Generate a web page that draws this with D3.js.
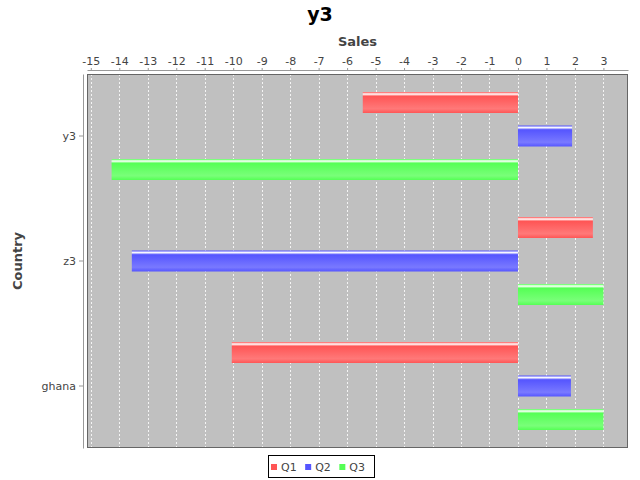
<!DOCTYPE html>
<html><head><meta charset="utf-8">
<script src="https://cdn.jsdelivr.net/npm/d3@7/dist/d3.min.js"></script>
<style>
body{margin:0;background:#fff;}
svg{display:block;font-family:"DejaVu Sans",sans-serif;}
</style></head>
<body>
<svg id="chart" width="640" height="480"></svg>
<script>
const categories = ["y3", "z3", "ghana"];
const seriesNames = ["Q1", "Q2", "Q3"];
const q1 = [-5.45, 2.63, -10.05];
const q2 = [1.9, -13.56, 1.86];
const q3 = [-14.27, 3.0, 3.0];
const xTicks = d3.range(-15, 4, 1);
const seriesColors = ["#FF5555", "#5555FF", "#55FF55"];
const seriesBright = ["#FF7979", "#7979FF", "#79FF79"];

const seriesValues = [q1, q2, q3];
const data = [];
categories.forEach((c, i) => seriesNames.forEach((s, j) => data.push({cat: c, ser: s, si: j, v: seriesValues[j][i]})));

const W = 640, H = 480;
const plot = {l: 87, r: 628, t: 74, b: 448};
const svg = d3.select("#chart");
svg.append("rect").attr("width", W).attr("height", H).attr("fill", "#fff");

const allV = seriesValues.flat();
const mn = d3.min(allV), mx = d3.max(allV), rng = mx - mn;
const x = d3.scaleLinear().domain([mn - 0.05 * rng, mx + 0.05 * rng]).range([plot.l, plot.r]);
const y = d3.scaleBand().domain(categories).range([plot.t, plot.b]).paddingInner(0.296).paddingOuter(0.144);
const yi = d3.scaleBand().domain(seriesNames).range([0, y.bandwidth()]).paddingInner(0.373).paddingOuter(0);

// gradients
const defs = svg.append("defs");
seriesNames.forEach((s, j) => {
  const g = defs.append("linearGradient").attr("id", "g" + j).attr("x1", 0).attr("y1", 0).attr("x2", 0).attr("y2", 1);
  const c0 = seriesColors[j], c1 = seriesBright[j];
  [[0, c0], [0.1, "#fff"], [0.2, c0], [0.8, c1], [1, c0]].forEach(([o, c]) => g.append("stop").attr("offset", o).attr("stop-color", c));
});

// plot background
svg.append("rect").attr("x", plot.l).attr("y", plot.t).attr("width", plot.r - plot.l).attr("height", plot.b - plot.t).attr("fill", "#C0C0C0");

// gridlines
svg.append("g").selectAll("line").data(xTicks).join("line")
  .attr("x1", d => Math.round(x(d)) + 0.5).attr("x2", d => Math.round(x(d)) + 0.5)
  .attr("y1", plot.t).attr("y2", plot.b)
  .attr("stroke", "#f4f4f4").attr("stroke-width", 1).attr("stroke-dasharray", "2,2");

// bars
svg.append("g").selectAll("rect").data(data).join("rect")
  .attr("x", d => x(Math.min(0, d.v)))
  .attr("width", d => Math.abs(x(d.v) - x(0)))
  .attr("y", d => y(d.cat) + yi(d.ser))
  .attr("height", yi.bandwidth())
  .attr("fill", d => "url(#g" + d.si + ")");

// plot outline
svg.append("rect").attr("x", plot.l + 0.5).attr("y", plot.t + 0.5).attr("width", plot.r - plot.l - 1).attr("height", plot.b - plot.t - 1)
  .attr("fill", "none").attr("stroke", "#666");

// top axis
const xAxis = d3.axisTop(x).tickValues(xTicks).tickFormat(d => String(d)).tickSizeInner(2).tickSizeOuter(0).tickPadding(3);
const gx = svg.append("g").attr("transform", `translate(0,${plot.t - 4})`).call(xAxis);
gx.select(".domain").attr("stroke", "#999");
gx.selectAll(".tick line").attr("stroke", "#999");
gx.selectAll(".tick text").attr("fill", "#444").attr("font-size", 11).attr("font-family", "DejaVu Sans, sans-serif");

// left axis
const yAxis = d3.axisLeft(y).tickSizeInner(4).tickSizeOuter(0).tickPadding(3);
const gy = svg.append("g").attr("transform", `translate(${plot.l - 4},0)`).call(yAxis);
gy.select(".domain").attr("stroke", "#999");
gy.selectAll(".tick line").attr("stroke", "#999");
gy.selectAll(".tick text").attr("fill", "#444").attr("font-size", 11).attr("font-family", "DejaVu Sans, sans-serif");

// titles
svg.append("text").attr("x", W / 2).attr("y", 21).attr("text-anchor", "middle")
  .attr("font-size", 19).attr("font-weight", "bold").attr("fill", "#000").text("y3");
svg.append("text").attr("x", (plot.l + plot.r) / 2).attr("y", 46).attr("text-anchor", "middle")
  .attr("font-size", 13).attr("font-weight", "bold").attr("fill", "#444").text("Sales");
svg.append("text").attr("transform", `translate(22,${(plot.t + plot.b) / 2}) rotate(-90)`).attr("text-anchor", "middle")
  .attr("font-size", 13).attr("font-weight", "bold").attr("fill", "#444").text("Country");

// legend
const lg = svg.append("g");
let cx = 0;
seriesNames.forEach((s, j) => {
  const it = lg.append("g");
  it.append("rect").attr("x", cx).attr("y", -3).attr("width", 6).attr("height", 6).attr("fill", seriesColors[j]);
  const t = it.append("text").attr("x", cx + 10).attr("y", 4).attr("font-size", 11).attr("fill", "#444").text(s);
  const w = t.node().getComputedTextLength();
  cx += 10 + w + 8.5;
});
const lw = cx - 8.5;
const boxX = 268, boxW = 106;
const lx = boxX + 3;
lg.attr("transform", `translate(${lx},467)`);
svg.append("rect").attr("x", boxX + 0.5).attr("y", 455.5).attr("width", boxW).attr("height", 22)
  .attr("fill", "none").attr("stroke", "#000");
</script>
</body></html>
